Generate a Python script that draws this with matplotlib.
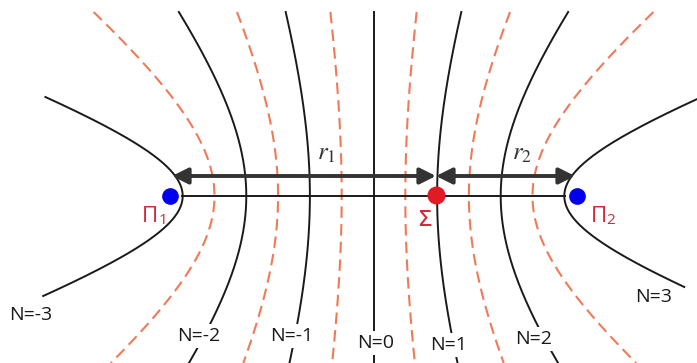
import matplotlib.pyplot as plt
import numpy as np

plt.rcParams["mathtext.fontset"] = "stix"

# geometry (pixel units, y downwards)
focus_1 = (170, 196)
focus_2 = (577, 196)
sigma = (436, 195)
step = 63.6  # half path difference per order, px

solid_orders = [-3, -2, -1, 0, 1, 2, 3]
dashed_orders = [-2.5, -1.5, -0.5, 0.5, 1.5, 2.5]
order_y_range = {-3: (97, 296), 3: (97, 287)}
full_y_range = (12, 363)

label_text = ["N=-3", "N=-2", "N=-1", "N=0", "N=1", "N=2", "N=3"]
label_xy = [(31, 315), (199, 336), (292, 336), (376, 343), (449, 345), (534, 339), (654, 297)]


def hyperbola(order, y0, y1):
    cx = (focus_1[0] + focus_2[0]) / 2
    cy = focus_1[1]
    c = (focus_2[0] - focus_1[0]) / 2
    y = np.linspace(y0, y1, 400)
    if order == 0:
        return np.full_like(y, cx), y
    a = abs(order) * step
    b = np.sqrt(c ** 2 - a ** 2)
    x = cx + np.sign(order) * a * np.sqrt(1 + ((y - cy) / b) ** 2)
    return x, y


fig = plt.figure(figsize=(6.97, 3.63), dpi=100)
ax = fig.add_axes([0, 0, 1, 1])
ax.set_xlim(0, 697)
ax.set_ylim(363, 0)
ax.axis("off")

for order in dashed_orders:
    x, y = hyperbola(order, *full_y_range)
    ax.plot(x, y, color="#f07a58", lw=1.5, dashes=(5.5, 3), zorder=1)

for order in solid_orders:
    x, y = hyperbola(order, *order_y_range.get(order, full_y_range))
    ax.plot(x, y, color="#1a1a1a", lw=1.4, zorder=2)

# baseline between the two vertices
ax.plot([182, 565], [focus_1[1], focus_1[1]], color="#1a1a1a", lw=1.4, zorder=2)

# distance arrows
arrow_y = 176
for x0, x1 in [(172, sigma[0]), (sigma[0], 575)]:
    ax.annotate("", xy=(x1, arrow_y), xytext=(x0, arrow_y),
                arrowprops=dict(arrowstyle="<|-|>", color="#333333", lw=2.8,
                                mutation_scale=24, shrinkA=0, shrinkB=0), zorder=3)
ax.text(326, 153, r"$r_1$", fontsize=18, color="#333333", ha="center", va="center")
ax.text(522, 153, r"$r_2$", fontsize=18, color="#333333", ha="center", va="center")

ax.plot(*focus_1, "o", color="#0000ee", ms=11, zorder=4)
ax.plot(*focus_2, "o", color="#0000ee", ms=11, zorder=4)
ax.plot(*sigma, "o", color="#e01b24", ms=12, zorder=4)

red = "#d42a3a"
ax.text(150, 216, "Π", fontsize=16, color=red, ha="center", va="center", family="Open Sans")
ax.text(163, 220, "1", fontsize=11, color=red, ha="center", va="center", family="Open Sans")
ax.text(425, 221, "Σ", fontsize=16, color=red, ha="center", va="center", family="Open Sans",
        weight="semibold")
ax.text(599, 216, "Π", fontsize=16, color=red, ha="center", va="center", family="Open Sans")
ax.text(611, 220, "2", fontsize=11, color=red, ha="center", va="center", family="Open Sans")

for text, (x, y) in zip(label_text, label_xy):
    ax.text(x, y, text, fontsize=14, color="#1a1a1a", ha="center", va="center",
            family="Open Sans", zorder=5,
            bbox=dict(facecolor="white", edgecolor="none", pad=2))

fig.savefig("out.png", dpi=100)
plt.close(fig)
